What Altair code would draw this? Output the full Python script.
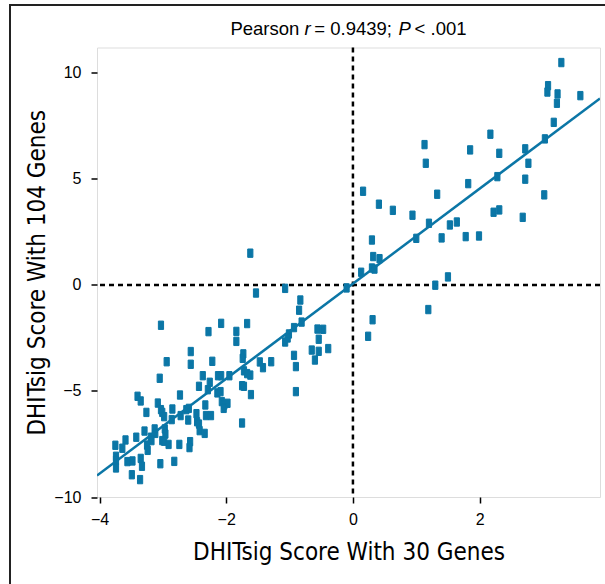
import altair as alt
import pandas as pd

# DHITsig score with 30 genes (x) vs with 104 genes (y)
x_vals = [
    -1.62, -1.53, -3.03, -2.08, -1.67, -2.28, -1.84, -1.84, -2.56, -2.56,
    -2.94, -2.22, -1.73, -1.74, -1.47, -1.42, -1.29, -3.05, -2.37, -2.13,
    -2.08, -1.95, -1.72, -1.67, -1.62,
    -2.26, -2.43, -2.29, -3.40, -3.35, -2.73, -2.14, -2.09, -3.08, -3.03,
    -3.01, -2.85, -3.26, -2.98, -2.59, -2.63, -2.72, -2.86, -2.47, -2.60,
    -2.33, -2.32, -2.24, -2.07, -2.03, -1.98, -2.04, -1.75, -1.72, -1.61,
    -1.75, -2.46, -2.43, -2.42, -2.34, -3.29, -3.13, -3.12, -2.97, -2.96,
    -3.19, -3.18, -3.42, -3.59, -3.64, -3.75, -3.25, -3.24, -3.01, -2.98,
    -2.91, -2.74, -2.57, -2.58, -3.74, -3.74, -3.74, -3.56, -3.48, -3.35,
    -3.33, -3.04, -2.82, -3.49, -3.36,
    -1.07, -0.10, -0.83, -0.85, -0.81, -0.93, -1.01, -1.03, -1.07, -0.56,
    -0.47, -0.54, -0.65, -0.54, -0.39, -0.60, -0.93, -0.90, -0.90,
    0.13, 1.13, 1.15, 1.85, 0.16, 0.41, 0.63, 0.94, 1.33, 1.82,
    1.20, 1.00, 1.53, 1.64, 1.40, 1.78, 0.30, 0.32, 0.42, 0.30,
    0.34, 1.30, 1.50, 1.19, 0.31, 0.24,
    3.29, 3.08, 3.07, 3.23, 3.22, 3.59, 3.17, 2.17, 2.31, 2.72,
    3.03, 2.77, 2.28, 2.72, 3.02, 2.22, 2.31, 2.68, 1.99,
]
y_vals = [
    1.50, -0.38, -1.90, -1.81, -1.82, -2.20, -2.19, -2.66, -3.14, -3.74,
    -3.62, -3.60, -3.25, -3.46, -3.63, -3.90, -3.62, -4.40, -4.28, -4.28,
    -4.28, -4.28, -4.05, -4.18, -4.25,
    -4.59, -4.78, -4.94, -5.25, -5.47, -5.19, -5.09, -5.03, -5.57, -5.88,
    -6.01, -5.85, -6.01, -6.21, -5.82, -5.88, -6.16, -6.35, -6.07, -6.37,
    -5.66, -6.16, -6.16, -5.50, -5.66, -5.58, -5.82, -4.75, -4.78, -5.17,
    -6.51, -6.45, -6.56, -6.87, -7.00, -6.89, -6.79, -7.00, -6.79, -7.03,
    -7.18, -7.34, -7.18, -7.31, -7.70, -7.56, -7.55, -7.80, -7.34, -7.37,
    -7.52, -7.52, -7.39, -7.67, -8.08, -8.27, -8.63, -8.33, -8.30, -8.18,
    -8.55, -8.43, -8.32, -8.95, -9.18,
    -0.16, -0.14, -0.71, -1.19, -1.75, -2.01, -2.31, -2.50, -2.69, -2.08,
    -2.09, -2.56, -3.07, -3.13, -3.00, -3.54, -3.32, -3.85, -5.03,
    0.60, 6.62, 5.74, 6.37, 4.42, 3.81, 3.52, 3.29, 4.28, 4.78,
    2.91, 2.20, 2.83, 2.97, 2.22, 2.28, 2.12, 1.34, 1.24, 0.80,
    0.75, -0.01, 0.38, -1.16, -1.64, -2.42,
    10.49, 9.40, 9.10, 9.01, 8.57, 8.93, 7.67, 7.11, 6.21, 6.42,
    6.89, 5.74, 5.11, 4.99, 4.25, 3.43, 3.54, 3.19, 2.31,
]

x_domain = [-4.04, 3.9]
y_domain = [-10.0, 11.2]
x_ticks = [-4, -2, 0, 2]
y_ticks = [-10, -5, 0, 5, 10]
ref_lines = [0]

# title pieces: (text, italic, offset in em from the start)
title_parts = ["Pearson", "r", "= 0.9439;", "P", "< .001"]
title_italic = [False, True, False, True, False]
title_offsets_em = [0.0, 4.002, 4.335 + 0.200, 9.089, 9.756 + 0.200]

BLUE = "#0b76a6"
W, H = 503, 449.5
TITLE_FONT = "DejaVu Sans Condensed, Roboto, sans-serif"

df = pd.DataFrame({"x": x_vals, "y": y_vals})
ref = pd.DataFrame({"v": ref_lines})

xs = alt.Scale(domain=x_domain, nice=False, zero=False)
ys = alt.Scale(domain=y_domain, nice=False, zero=False)

xaxis = alt.Axis(values=x_ticks, title="DHITsig Score With 30 Genes", grid=False,
                 domain=False, tickSize=6, tickWidth=1.5, tickColor="black",
                 labelPadding=8, labelFontSize=16, labelFont="Liberation Sans",
                 labelColor="black", titleFontSize=24, titleFontWeight="normal",
                 titleFont=TITLE_FONT, titleColor="black", titlePadding=13)
yaxis = alt.Axis(values=y_ticks, title="DHITsig Score With 104 Genes", grid=False,
                 domain=False, tickSize=6, tickWidth=1.5, tickColor="black",
                 labelPadding=10, labelFontSize=16, labelFont="Liberation Sans",
                 labelColor="black", titleFontSize=24, titleFontWeight="normal",
                 titleFont=TITLE_FONT, titleColor="black", titlePadding=4)

vline = alt.Chart(ref).mark_rule(color="black", strokeWidth=2.5, strokeDash=[5, 4]).encode(
    x=alt.X("v:Q", scale=xs, axis=xaxis))
hline = alt.Chart(ref).mark_rule(color="black", strokeWidth=2.5, strokeDash=[5, 4]).encode(
    y=alt.Y("v:Q", scale=ys, axis=yaxis))

square = "M-0.62,-1L0.62,-1L0.62,1L-0.62,1Z"
pts = alt.Chart(df).mark_point(shape=square, filled=True, size=70, color=BLUE,
                               opacity=1, stroke=BLUE, strokeWidth=1,
                               strokeJoin="round").encode(
    x=alt.X("x:Q", scale=xs, axis=xaxis),
    y=alt.Y("y:Q", scale=ys, axis=yaxis))

fit = alt.Chart(df).transform_regression("x", "y", extent=x_domain).mark_line(
    color=BLUE, strokeWidth=2.5, clip=True).encode(
    x=alt.X("x:Q", scale=xs, axis=xaxis),
    y=alt.Y("y:Q", scale=ys, axis=yaxis))

# outer frame around the panel
one = pd.DataFrame({"k": [0]})
frame = alt.Chart(one).mark_rect(fillOpacity=0, stroke="#222", strokeWidth=2).encode(
    x=alt.value(-87), x2=alt.value(650), y=alt.value(-42.5), y2=alt.value(700))

# title built from parts (italic r and P)
fs = 18.5
total_em = 9.756 + 0.200 + 2.808
start = W / 2 - total_em * fs / 2
title_layers = []
for part, ital, off in zip(title_parts, title_italic, title_offsets_em):
    title_layers.append(
        alt.Chart(one).mark_text(text=part, align="left", baseline="alphabetic",
                                 fontSize=fs, font="Liberation Sans",
                                 fontStyle="italic" if ital else "normal",
                                 color="black").encode(
            x=alt.value(start + off * fs), y=alt.value(-13)))

chart = alt.layer(frame, vline, hline, pts, fit, *title_layers).properties(
    width=W, height=H,
    autosize=alt.AutoSizeParams(type="none"),
    padding={"left": 97, "top": 47.5, "right": 5, "bottom": 87},
).configure_view(stroke="black", strokeWidth=2).configure(background="white")

chart.save("out.html", embed_options={"renderer": "svg", "actions": False})
